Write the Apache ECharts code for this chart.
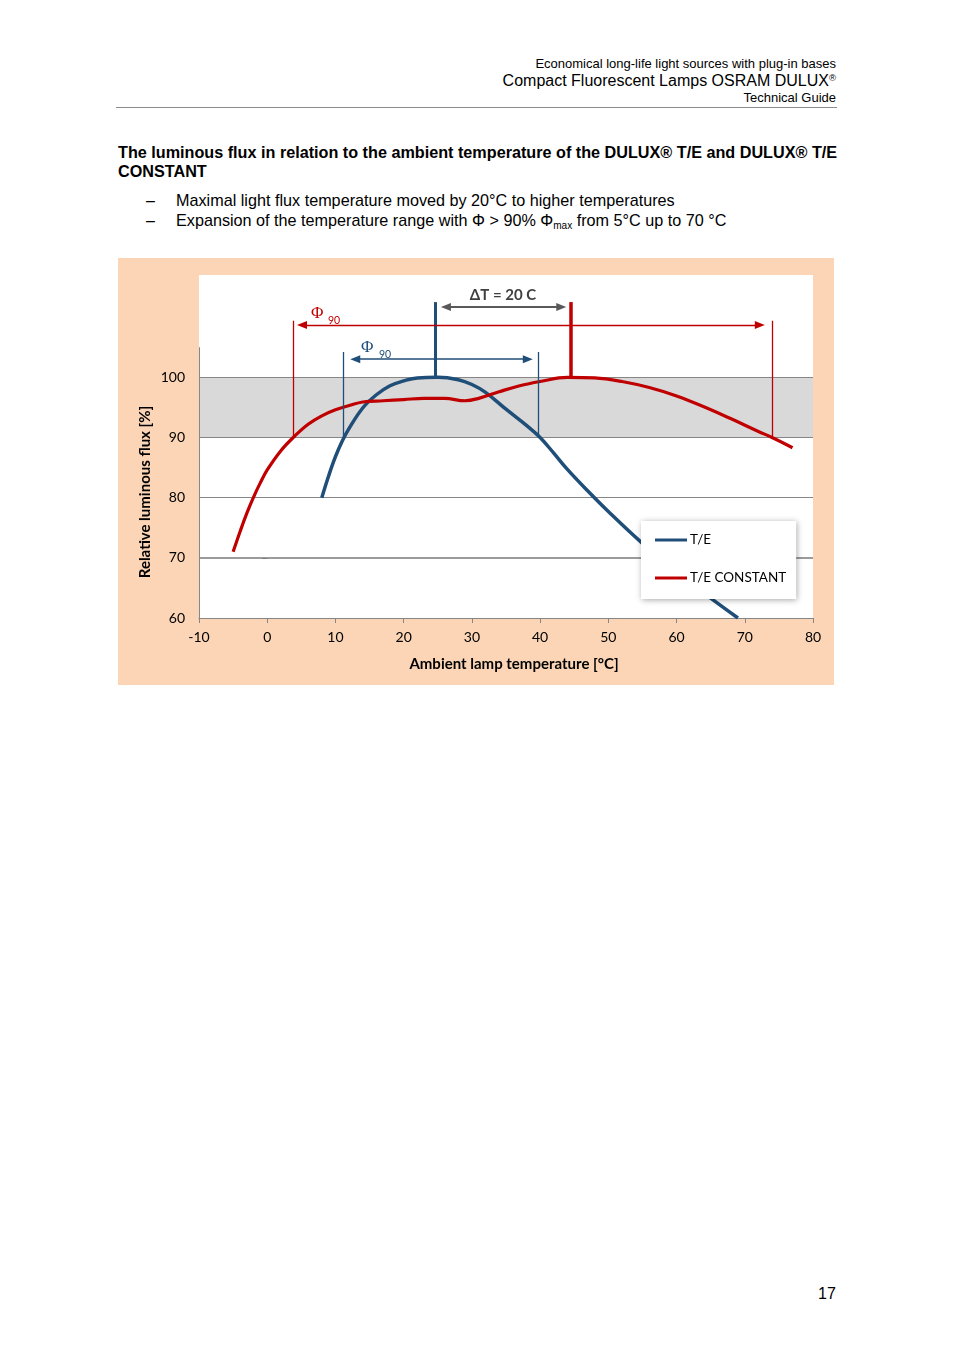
<!DOCTYPE html>
<html>
<head>
<meta charset="utf-8">
<script src="https://cdn.jsdelivr.net/npm/echarts/dist/echarts.min.js"></script>
<style>
  html, body { margin: 0; padding: 0; background: #fff; }
  body { width: 954px; height: 1350px; position: relative; font-family: "Liberation Sans", Arial, sans-serif; color: #000; overflow: hidden; }
  .t { position: absolute; white-space: nowrap; line-height: 1; }
  .r { right: 118px; text-align: right; }
  #chart { position: absolute; left: 118px; top: 258px; width: 716px; height: 427px; background: #fbd5b5; }
  sup { font-size: 0.6em; vertical-align: 0; position: relative; top: -0.55em; }
  sub { font-size: 0.62em; vertical-align: 0; position: relative; top: 0.3em; }
</style>
</head>
<body>
<div class="t r" style="top:57px;font-size:13px;">Economical long-life light sources with plug-in bases</div>
<div class="t r" style="top:73px;font-size:16px;">Compact Fluorescent Lamps OSRAM DULUX<sup>®</sup></div>
<div class="t r" style="top:91px;font-size:13px;">Technical Guide</div>
<div style="position:absolute;left:116px;top:107px;width:721px;height:1px;background:#8c8c8c;"></div>

<div class="t" style="left:118px;top:144px;font-size:16.2px;font-weight:bold;">The luminous flux in relation to the ambient temperature of the DULUX® T/E and DULUX® T/E</div>
<div class="t" style="left:118px;top:163px;font-size:16.2px;font-weight:bold;">CONSTANT</div>

<div class="t" style="left:146px;top:193px;font-size:16px;">–</div>
<div class="t" style="left:176px;top:192px;font-size:16.2px;">Maximal light flux temperature moved by 20°C to higher temperatures</div>
<div class="t" style="left:146px;top:213px;font-size:16px;">–</div>
<div class="t" style="left:176px;top:212px;font-size:16.2px;">Expansion of the temperature range with Φ &gt; 90% Φ<sub>max</sub> from 5°C up to 70 °C</div>

<div id="chart"></div>

<div class="t" style="left:818px;top:1286px;font-size:16px;">17</div>

<script>
// ---- data ----
const xTicks = [-10, 0, 10, 20, 30, 40, 50, 60, 70, 80];
const yTicks = [60, 70, 80, 90, 100];

const blueT    = [8, 9, 10, 11, 12, 14, 16, 18, 20, 22, 25, 28, 30, 32, 35, 38, 40, 42, 44, 47, 50, 55, 60, 65, 69];
const blueFlux = [80, 83.6, 86.8, 89.4, 91.5, 94.9, 97.1, 98.6, 99.4, 99.9, 100, 99.6, 98.8, 97.5, 94.7, 92, 90, 87.4, 84.7, 81.1, 77.7, 72.4, 67.6, 63.3, 60];

const redT    = [-5, -4, -3, -2, -1, 0, 2, 4, 6, 8, 10, 12, 14, 17, 20, 23, 26, 29, 31, 34, 37, 40, 44, 48, 52, 56, 60, 64, 68, 72, 74, 77];
const redFlux = [71, 74.3, 77.4, 80.1, 82.5, 84.6, 87.8, 90.2, 92.2, 93.6, 94.6, 95.3, 95.9, 96.1, 96.3, 96.5, 96.5, 96.1, 96.5, 97.6, 98.6, 99.3, 100, 99.9, 99.3, 98.3, 96.9, 95.1, 93.1, 91, 90, 88.3];

const bandRange   = [90, 100];
const gridValues  = [70, 80, 90, 100];
const axisTop     = 105;

// annotation positions (data units)
const redPhiX   = [3.8, 74.1];      // red Φ90 limits
const redPhiTop = 109.4;
const redArrow  = { y: 108.7, x: [5.1, 72.2] };
const bluePhiX  = [11.15, 39.75];   // blue Φ90 limits
const bluePhiTop = 104.2;
const blueArrow = { y: 103.0, x: [12.9, 38.2] };
const blueMaxX  = 24.7, redMaxX = 44.5, maxTop = 112.5;
const dtArrow   = { y: 111.7, x: [26.2, 43.1] };

const BLUE = '#1f4e79', RED = '#c00000', GREY = '#868686';

const chart = echarts.init(document.getElementById('chart'), null, { renderer: 'canvas' });

const pair = (a, b) => a.map((v, i) => [v, b[i]]);

function vline(x, y0, y1, color, w) {
  return [{ coord: [x, y0], lineStyle: { color: color, width: w, type: 'solid' } }, { coord: [x, y1] }];
}
function arrow(x0, x1, y, color, w) {
  return [{ coord: [x0, y], symbol: 'triangle', symbolSize: [8, 10], lineStyle: { color: color, width: w, type: 'solid' }, itemStyle: { color: color } },
          { coord: [x1, y], symbol: 'triangle', symbolSize: [8, 10], itemStyle: { color: color } }];
}

const font = 'Lato, "Open Sans", sans-serif';

chart.setOption({
  animation: false,
  textStyle: { fontFamily: font },
  grid: { left: 81, right: 21, top: 17, bottom: 67, show: true, backgroundColor: '#ffffff', borderWidth: 0 },
  xAxis: {
    type: 'value', min: -10, max: 80, interval: 10,
    axisLine: { show: true, lineStyle: { color: GREY, width: 1 } },
    axisTick: { show: true, length: 5, lineStyle: { color: GREY } },
    axisLabel: { color: '#000', fontSize: 14, margin: 12, fontFamily: font },
    splitLine: { show: false }
  },
  yAxis: {
    type: 'value', min: 60, max: 117, interval: 10,
    axisLine: { show: false },
    axisTick: { show: true, length: 5, lineStyle: { color: GREY }, customValues: yTicks },
    axisLabel: { color: '#000', fontSize: 14, margin: 14, fontFamily: font, customValues: yTicks },
    splitLine: { show: false }
  },
  legend: {
    data: ['T/E', 'T/E CONSTANT'],
    orient: 'vertical', left: 523, top: 263,
    icon: 'rect', itemWidth: 32, itemHeight: 3, itemGap: 24,
    padding: [12, 10, 14, 14],
    backgroundColor: '#ffffff',
    shadowBlur: 6, shadowColor: 'rgba(0,0,0,0.35)', shadowOffsetX: 1, shadowOffsetY: 1,
    textStyle: { color: '#000', fontSize: 13.5, fontFamily: font, padding: [0, 0, 0, -2] }
  },
  series: [
    {
      name: 'gridbg', type: 'line', data: [], silent: true,
      markArea: { silent: true, z: 1, itemStyle: { color: '#d9d9d9' },
        data: [[{ coord: [-10, bandRange[0]] }, { coord: [80, bandRange[1]] }]] },
      markLine: { silent: true, z: 2, symbol: 'none', label: { show: false },
        lineStyle: { color: GREY, width: 1, type: 'solid' },
        data: gridValues.map(v => [{ coord: [-10, v], lineStyle: { color: v === 70 ? '#7a7a7a' : GREY, width: v === 70 ? 1.6 : 1, type: 'solid' } }, { coord: [80, v] }])
          .concat([[{ coord: [-10, 60] }, { coord: [-10, axisTop] }]]) }
    },
    {
      name: 'T/E', type: 'line', z: 3, data: pair(blueT, blueFlux), smooth: 0.4, showSymbol: false,
      lineStyle: { color: BLUE, width: 3.5 }, itemStyle: { color: BLUE },
      markLine: { silent: true, z: 5, symbol: 'none', label: { show: false },
        data: [
          vline(bluePhiX[0], 90, bluePhiTop, BLUE, 1.3),
          vline(bluePhiX[1], 90, bluePhiTop, BLUE, 1.3),
          vline(blueMaxX, 100, maxTop, BLUE, 3),
          arrow(blueArrow.x[0], blueArrow.x[1], blueArrow.y, BLUE, 1.5)
        ] }
    },
    {
      name: 'T/E CONSTANT', type: 'line', z: 3, data: pair(redT, redFlux), smooth: 0.4, showSymbol: false,
      lineStyle: { color: RED, width: 3.2 }, itemStyle: { color: RED },
      markLine: { silent: true, z: 5, symbol: 'none', label: { show: false },
        data: [
          vline(redPhiX[0], 90, redPhiTop, RED, 1.3),
          vline(redPhiX[1], 90, redPhiTop, RED, 1.3),
          vline(redMaxX, 100, maxTop, RED, 3.5),
          arrow(redArrow.x[0], redArrow.x[1], redArrow.y, RED, 1.3),
          arrow(dtArrow.x[0], dtArrow.x[1], dtArrow.y, '#595959', 2)
        ] }
    }
  ],
  graphic: [
    { type: 'text', left: 193, top: 47, style: { text: 'Φ', fill: RED, font: '17px "Liberation Serif", serif' } },
    { type: 'text', left: 210, top: 57, style: { text: '90', fill: RED, font: '10.5px Lato, sans-serif' } },
    { type: 'text', left: 243, top: 81, style: { text: 'Φ', fill: BLUE, font: '17px "Liberation Serif", serif' } },
    { type: 'text', left: 261, top: 91, style: { text: '90', fill: BLUE, font: '10.5px Lato, sans-serif' } },
    { type: 'text', x: 385, y: 37, style: { text: 'ΔT = 20 C', fill: '#404040', font: 'bold 15px Lato, sans-serif', align: 'center', verticalAlign: 'middle' } },
    { type: 'text', x: 396, y: 406, style: { text: 'Ambient lamp temperature [°C]', fill: '#000', font: 'bold 15px Lato, sans-serif', align: 'center', verticalAlign: 'middle' } },
    { type: 'text', x: 27, y: 234, rotation: Math.PI / 2, style: { text: 'Relative luminous flux [%]', fill: '#000', font: 'bold 15px Lato, sans-serif', align: 'center', verticalAlign: 'middle' } }
  ]
});
</script>
</body>
</html>
